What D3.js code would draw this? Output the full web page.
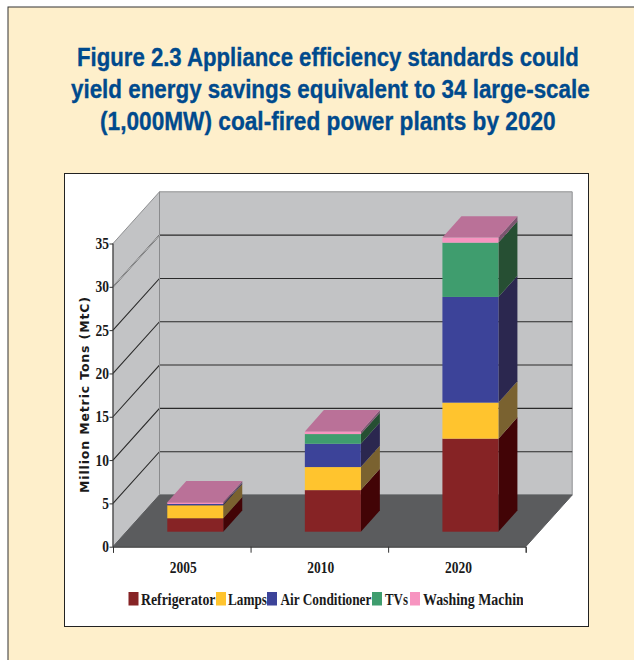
<!DOCTYPE html>
<html><head><meta charset="utf-8">
<script src="https://cdn.jsdelivr.net/npm/d3@7"></script>
<style>html,body{margin:0;padding:0;background:#fff}svg{display:block}</style>
</head><body><div id="c"></div>
<script>
const categories = ["2005","2010","2020"];
const seriesNames = ["Refrigerator","Lamps","Air Conditioner","TVs","Washing Machine"];
const refrigerator = [1.55,4.8,10.74];
const lamps = [1.5,2.66,4.16];
const airConditioner = [0.15,2.69,12.2];
const tvs = [0,1.12,6.27];
const washingMachine = [0.2,0.31,0.58];
const yTicks = [0,5,10,15,20,25,30,35];
const titleLines = ["Figure 2.3 Appliance efficiency standards could","yield energy savings equivalent to 34 large-scale","(1,000MW) coal-fired power plants by 2020"];

const frontColors = ["#862325","#FFC42E","#3C4399","#3F9D6E","#F794C0"];
const sideColors = ["#420406","#7A6230","#2B274F","#264F33","#7C5570"];
const topColor = "#BA7198";

const W=634,H=660;
const svg=d3.select("#c").append("svg").attr("width",W).attr("height",H);
svg.append("rect").attr("x",8).attr("y",7).attr("width",W).attr("height",H).attr("fill","#FEEFCB").attr("stroke","#333").attr("stroke-width",1);

// squeeze a start-anchored text horizontally to a given on-screen width
function fit(sel,px,py,width){
  const natural=sel.node().getComputedTextLength();
  sel.attr("transform",`translate(${px},${py}) scale(${width/natural},1)`);
}

// title: condensed bold, fitted to the reference line widths
const titleX=[77,71,100],titleWidths=[502,519,456];
const titleG=svg.append("g");
titleLines.forEach((line,i)=>{
  const t=titleG.append("text").attr("font-family","'Liberation Sans',sans-serif").attr("font-weight",700)
   .attr("font-size",26.5).attr("fill","#004A8D").attr("stroke","#004A8D").attr("stroke-width",0.35).text(line);
  fit(t,titleX[i],66+i*32,titleWidths[i]);
});

// chart box
svg.append("rect").attr("x",64.5).attr("y",173.5).attr("width",524).attr("height",453).attr("fill","#fff").attr("stroke","#222").attr("stroke-width",1);

const x0=113,x1=525.7;
const y=d3.scaleLinear().domain([0,35]).range([546.7,243.5]);
const x=d3.scaleBand().domain(categories).range([x0,x1]).paddingInner(0.593).paddingOuter(0.2965);
const edges=d3.scaleLinear().domain([0,3]).range([x0,x1]);
const DX=46.5,DY=-51.7;      // chart depth
const BX=13.5,BY=-15;        // bar front offset from chart front
const bDX=19,bDY=-21.3;      // bar depth
const poly=p=>p.map(q=>q.join(",")).join(" ");

// walls and floor
const yT=y(35),yB=y(0);
svg.append("polygon").attr("points",poly([[x0+DX,yT+DY],[x1+DX,yT+DY],[x1+DX,yB+DY],[x0+DX,yB+DY]])).attr("fill","#C2C3C5").attr("stroke","#8F9092");
svg.append("polygon").attr("points",poly([[x0,yT],[x0+DX,yT+DY],[x0+DX,yB+DY],[x0,yB]])).attr("fill","#C2C3C5").attr("stroke","#8F9092");
// gridlines
const grid=svg.append("g");
grid.selectAll("polyline").data(yTicks.filter(t=>t>0&&t<35)).join("polyline")
 .attr("points",t=>poly([[x0,y(t)],[x0+DX,y(t)+DY],[x1+DX,y(t)+DY]]))
 .attr("fill","none").attr("stroke","#2A2A2A").attr("stroke-width",1.1);
svg.append("polygon").attr("points",poly([[x0,yB],[x0+DX,yB+DY],[x1+DX,yB+DY],[x1,yB]])).attr("fill","#5B5C5E").attr("stroke","#5B5C5E");
svg.append("line").attr("x1",x0+DX).attr("x2",x0+DX).attr("y1",yT+DY).attr("y2",yB+DY).attr("stroke","#8A8B8D").attr("stroke-width",1);
svg.append("line").attr("x1",x0).attr("x2",x0+DX).attr("y1",y(30)).attr("y2",y(30)+DY).attr("stroke","#B4B5B7").attr("stroke-width",1);

// stacked bars
const table=categories.map((c,i)=>({c,Refrigerator:refrigerator[i],Lamps:lamps[i],"Air Conditioner":airConditioner[i],TVs:tvs[i],"Washing Machine":washingMachine[i]}));
const stacked=d3.stack().keys(seriesNames)(table);
const bars=svg.append("g");
stacked.forEach((s,si)=>{
  const g=bars.append("g");
  s.forEach(d=>{
    if(d[1]-d[0]<=0) return;
    const l=x(d.data.c)+BX,r=l+x.bandwidth(),t=y(d[1])+BY,b=y(d[0])+BY;
    g.append("polygon").attr("points",poly([[r,t],[r+bDX,t+bDY],[r+bDX,b+bDY],[r,b]])).attr("fill",sideColors[si]);
    g.append("rect").attr("x",l).attr("y",t).attr("width",r-l).attr("height",b-t).attr("fill",frontColors[si]);
  });
});
table.forEach((d,i)=>{
  const top=stacked[4][i][1];
  const l=x(d.c)+BX,r=l+x.bandwidth(),t=y(top)+BY;
  bars.append("polygon").attr("points",poly([[l,t],[l+bDX,t+bDY],[r+bDX,t+bDY],[r,t]])).attr("fill",topColor);
});

// axes
const yAxis=svg.append("g").attr("transform",`translate(${x0},0)`).call(d3.axisLeft(y).tickValues(yTicks).tickSize(3.5).tickPadding(0.5));
yAxis.selectAll("text").attr("font-family","'Liberation Serif',serif").attr("font-weight",700).attr("font-size",17).attr("fill","#1a1a1a").attr("dy","0.3em")
 .attr("textLength",d=>d<10?6.7:13.5).attr("lengthAdjust","spacingAndGlyphs");
yAxis.selectAll("line,path").attr("stroke","#333");
yAxis.select("path").attr("d",`M0,${y(35)}V${y(0)}`);

const xAxis=svg.append("g").attr("transform",`translate(1.5,${yB})`).call(d3.axisBottom(x).tickSize(0).tickPadding(14));
xAxis.select("path").remove();
xAxis.selectAll("text").attr("font-family","'Liberation Serif',serif").attr("font-weight",700).attr("font-size",17).attr("fill","#1a1a1a")
 .attr("textLength",27).attr("lengthAdjust","spacingAndGlyphs");
const xTicks=svg.append("g").attr("transform",`translate(0,${yB})`).call(d3.axisBottom(edges).tickValues([0,1,2,3]).tickSize(6).tickFormat(""));
xTicks.selectAll("line,path").attr("stroke","#333");

svg.append("text").attr("transform","translate(89,395) rotate(-90)").attr("text-anchor","middle")
 .attr("font-family","'DejaVu Sans',sans-serif").attr("font-weight",700).attr("font-size",12.5).attr("fill","#1a1a1a")
 .attr("textLength",196).attr("lengthAdjust","spacing")
 .text("Million Metric Tons (MtC)");

// legend; the last entry is cut off at the legend's right end, as in the source
const swatchX=[128.5,216,267,372,410];
const textX=[141,228,280.5,385,423];
const textLen=[74.5,39,91,23,107];
const clipEnd=[216,267,372,410,523];
const defs=svg.append("defs");
const leg=svg.append("g");
seriesNames.forEach((n,i)=>{
  defs.append("clipPath").attr("id","lc"+i).append("rect").attr("x",swatchX[i]).attr("y",585).attr("width",clipEnd[i]-swatchX[i]).attr("height",30);
  leg.append("rect").attr("x",swatchX[i]).attr("y",592).attr("width",10).attr("height",13.5).attr("fill",frontColors[i]);
  const cg=leg.append("g").attr("clip-path",`url(#lc${i})`);
  const t=cg.append("text")
   .attr("font-family","'Liberation Serif',serif").attr("font-weight",700).attr("font-size",16.5).attr("fill","#1a1a1a").text(n);
  fit(t,textX[i],605,textLen[i]);
});
</script></body></html>
